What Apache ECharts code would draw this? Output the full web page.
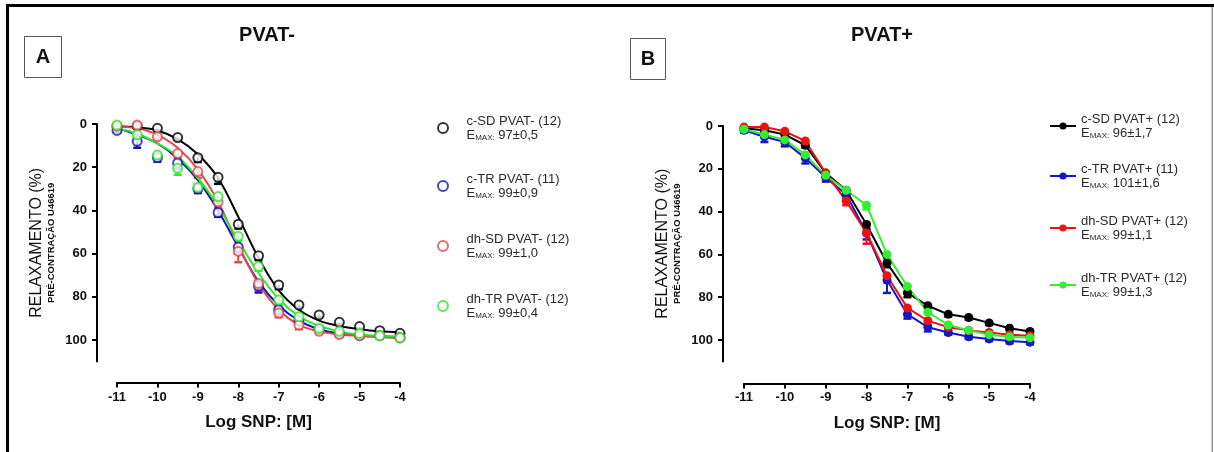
<!DOCTYPE html>
<html><head><meta charset="utf-8">
<script src="https://cdn.jsdelivr.net/npm/echarts@6/dist/echarts.min.js"></script>
<style>html,body{margin:0;padding:0;background:#fff}#c{width:1214px;height:452px}</style>
</head><body><div id="c"></div><script>
// ---------- data ----------
const logSNP = [-11, -10.5, -10, -9.5, -9, -8.5, -8, -7.5, -7, -6.5, -6, -5.5, -5, -4.5, -4];
const xTickLabels = [-11, -10, -9, -8, -7, -6, -5, -4];
const yTickLabels = [0, 20, 40, 60, 80, 100];

const namesA = ['c-SD PVAT- (12)', 'c-TR PVAT- (11)', 'dh-SD PVAT- (12)', 'dh-TR PVAT- (12)'];
const emaxA = ['97±0,5', '99±0,9', '99±1,0', '99±0,4'];
const namesB = ['c-SD PVAT+ (12)', 'c-TR PVAT+ (11)', 'dh-SD PVAT+ (12)', 'dh-TR PVAT+ (12)'];
const emaxB = ['96±1,7', '101±1,6', '99±1,1', '99±1,3'];

// Panel A (PVAT-) mean relaxation (%)
const cSD_A  = [1, 1, 2, 6.3, 15.6, 24.7, 46.4, 61, 74.5, 83.8, 88.4, 91.8, 93.8, 95.7, 96.9];
const cTR_A  = [3, 8, 15.5, 18, 30, 41, 57, 75, 86, 91, 95, 97, 98, 98, 99];
const dhSD_A = [1, 0.5, 5.9, 13.6, 22, 36, 59, 73.8, 87.5, 93, 96, 97.5, 98, 98, 99];
const dhTR_A = [0.5, 5, 14.4, 20.5, 29.3, 33.6, 52, 66, 81.5, 89.2, 94.6, 96, 97, 98, 99];
// Panel A SEM
const cSD_A_err  = [1, 1, 1, 1, 2, 3, 2, 2, 2, 1, 1, 1, 1, 1, 1];
const cTR_A_err  = [1, 3, 2, 3, 2, 2, 3, 3, 2, 1, 1, 1, 1, 1, 1];
const dhSD_A_err = [1, 1, 1, 2, 3, 3, 5, 3, 2, 2, 1, 1, 1, 1, 1];
const dhTR_A_err = [1, 2, 2, 3, 2, 2, 2, 2, 2, 1, 1, 1, 1, 1, 1];
// Panel A fitted curves
const cSD_A_fit  = [1, 1.5, 3, 7, 14, 25, 43, 62, 77, 86, 91, 93.5, 95, 96, 96.5];
const cTR_A_fit  = [2, 5, 9, 16, 26, 40, 57, 73, 84, 91, 95, 97, 98, 98.5, 99];
const dhSD_A_fit = [1, 2, 5, 11, 21, 36, 56, 74, 86, 93, 96, 97.5, 98, 98.5, 99];
const dhTR_A_fit = [2, 4.5, 9, 15, 25, 38, 54, 69, 81, 89, 93.5, 96, 97.5, 98, 98.5];

// Panel B (PVAT+) mean relaxation (%)
const cSD_B  = [1, 2, 4, 9, 22, 30, 46, 64, 78, 84, 88, 89.5, 92, 94.5, 96];
const cTR_B  = [2, 5, 7.5, 15, 24, 32, 50, 72, 88, 94, 96.5, 98.5, 99.5, 100.5, 101];
const dhSD_B = [0.5, 0.5, 2.5, 7, 22, 35, 50, 70, 85, 91, 94, 95.5, 96.5, 97.5, 98];
const dhTR_B = [1.5, 4, 6.5, 13.5, 23, 30, 37, 60, 75, 87, 93, 95.5, 97.5, 98.5, 99];
// Panel B SEM
const cSD_B_err  = [1, 1, 1, 1, 1, 2, 2, 2, 2, 1, 1, 1, 1, 1, 1];
const cTR_B_err  = [1, 2.5, 2, 2.5, 2, 2, 3, 6, 2, 2, 1, 1, 1, 1, 1];
const dhSD_B_err = [1, 1, 1, 1, 2, 2, 5, 3, 3, 2, 1, 1, 1, 1, 1];
const dhTR_B_err = [1, 1, 1, 1, 2, 2, 2, 2, 2, 1, 1, 1, 1, 1, 1];

// ---------- styles ----------
const FF = "'Liberation Sans', Arial, sans-serif";
const colorsA = ['#000000', '#1414b4', '#e2474b', '#2ee62e'];
const colorsB = ['#000000', '#1616c8', '#ee1111', '#33ee33'];

const meansA = [cSD_A, cTR_A, dhSD_A, dhTR_A];
const errsA = [cSD_A_err, cTR_A_err, dhSD_A_err, dhTR_A_err];
const fitsA = [cSD_A_fit, cTR_A_fit, dhSD_A_fit, dhTR_A_fit];
const meansB = [cSD_B, cTR_B, dhSD_B, dhTR_B];
const errsB = [cSD_B_err, cTR_B_err, dhSD_B_err, dhTR_B_err];

const pairs = arr => logSNP.map((x, i) => [x, arr[i]]);
const triples = (m, e) => logSNP.map((x, i) => [x, m[i], e[i]]);

function errSeries(name, idx, data, color) {
  return {
    type: 'custom', name: name, xAxisIndex: idx, yAxisIndex: idx, data: data, z: 3, silent: true,
    renderItem: function (params, api) {
      const x = api.value(0), y = api.value(1), e = api.value(2);
      const p0 = api.coord([x, y]), p1 = api.coord([x, y + e]);
      return { type: 'group', children: [
        { type: 'line', shape: { x1: p0[0], y1: p0[1], x2: p1[0], y2: p1[1] }, style: { stroke: color, lineWidth: 2 } },
        { type: 'line', shape: { x1: p1[0] - 4, y1: p1[1], x2: p1[0] + 4, y2: p1[1] }, style: { stroke: color, lineWidth: 2.5 } }
      ] };
    }
  };
}

const series = [];
for (let i = 0; i < 4; i++) {
  series.push(errSeries('errA' + i, 0, triples(meansA[i], errsA[i]), colorsA[i]));
  series.push({ type: 'line', name: 'fitA' + i, xAxisIndex: 0, yAxisIndex: 0, data: pairs(fitsA[i]),
    smooth: 0.35, showSymbol: false, clip: false, z: 4, silent: true,
    lineStyle: { color: colorsA[i], width: 2 } });
}
for (let i = 0; i < 4; i++) {
  series.push({ type: 'scatter', name: namesA[i], xAxisIndex: 0, yAxisIndex: 0, data: pairs(meansA[i]),
    symbol: 'emptyCircle', symbolSize: 9, clip: false, z: 5,
    itemStyle: { color: colorsA[i], borderColor: colorsA[i], borderWidth: 2.6 } });
}
for (let i = 0; i < 4; i++) {
  series.push(errSeries('errB' + i, 1, triples(meansB[i], errsB[i]), colorsB[i]));
  series.push({ type: 'line', name: namesB[i], xAxisIndex: 1, yAxisIndex: 1, data: pairs(meansB[i]),
    symbol: 'circle', symbolSize: 9, showSymbol: true, clip: false, z: 5,
    itemStyle: { color: colorsB[i] }, lineStyle: { color: colorsB[i], width: 2 } });
}

const emaxMap = {};
namesA.forEach((n, i) => emaxMap[n] = emaxA[i]);
namesB.forEach((n, i) => emaxMap[n] = emaxB[i]);

const legendText = {
  fontFamily: FF, fontSize: 13, color: '#2a2a2a', lineHeight: 14,
  rich: {
    e: { fontFamily: FF, fontSize: 13, color: '#2a2a2a', lineHeight: 14 },
    s: { fontFamily: FF, fontSize: 8, color: '#2a2a2a', lineHeight: 14, verticalAlign: 'bottom' }
  }
};
const fmt = name => name + '\n{e|E}{s|MAX:}{e| ' + emaxMap[name] + '}';
const topsA = [114, 172, 232, 292];
const topsB = [112, 162, 214, 271];
const legends = [];
namesA.forEach((n, i) => legends.push({ data: [n], left: 437, top: topsA[i], padding: 0, itemWidth: 37, itemHeight: 10,
  formatter: fmt, textStyle: legendText, selectedMode: false }));
namesB.forEach((n, i) => legends.push({ data: [n], left: 1049, top: topsB[i], padding: 0, itemWidth: 26, itemHeight: 9,
  formatter: fmt, textStyle: legendText, selectedMode: false }));

function makeX(idx, offset) {
  return {
    gridIndex: idx, type: 'value', min: -11, max: -4, interval: 1, position: 'bottom', offset: offset,
    axisLine: { onZero: false, lineStyle: { color: '#000', width: 2 } },
    axisTick: { show: true, length: 5, lineStyle: { color: '#000', width: 2 } },
    axisLabel: { customValues: xTickLabels, fontFamily: FF, fontSize: 13, fontWeight: 'bold', color: '#111', margin: 8 },
    splitLine: { show: false },
    name: 'Log SNP: [M]', nameLocation: 'middle', nameGap: 31,
    nameTextStyle: { fontFamily: FF, fontSize: 17, fontWeight: 'bold', color: '#111' }
  };
}
function makeY(idx, offset) {
  return {
    gridIndex: idx, type: 'value', min: 0, max: 110, inverse: true, offset: offset,
    axisLine: { show: true, lineStyle: { color: '#000', width: 2 } },
    axisTick: { show: true, length: 5, customValues: yTickLabels, lineStyle: { color: '#000', width: 2 } },
    axisLabel: { customValues: yTickLabels, fontFamily: FF, fontSize: 13, fontWeight: 'bold', color: '#111', margin: 10 },
    splitLine: { show: false },
    name: 'RELAXAMENTO (%)\n{s|PRÉ-CONTRAÇÃO U46619}', nameLocation: 'middle', nameGap: 40, nameRotate: 90,
    nameTextStyle: { fontFamily: FF, fontSize: 16, color: '#111', lineHeight: 16,
      rich: { s: { fontFamily: FF, fontSize: 9.5, fontWeight: 'bold', color: '#111', lineHeight: 12 } } }
  };
}

const chart = echarts.init(document.getElementById('c'), null, { renderer: 'canvas' });
chart.setOption({
  backgroundColor: '#ffffff',
  animation: false,
  grid: [
    { left: 117, top: 124, width: 283, height: 237.6 },
    { left: 744, top: 126, width: 286, height: 235.4 }
  ],
  xAxis: [makeX(0, 21), makeX(1, 22)],
  yAxis: [makeY(0, 20), makeY(1, 21)],
  legend: legends,
  series: series,
  graphic: [
    { type: 'rect', shape: { x: 6, y: 4, width: 1208, height: 3 }, style: { fill: '#000' } },
    { type: 'rect', shape: { x: 6, y: 4, width: 3, height: 448 }, style: { fill: '#000' } },
    { type: 'rect', shape: { x: 1211.5, y: 7, width: 1.5, height: 445 }, style: { fill: '#9a9a9a' } },
    { type: 'rect', shape: { x: 24.5, y: 36.5, width: 37, height: 41 }, style: { fill: '#fff', stroke: '#555', lineWidth: 1 } },
    { type: 'text', x: 43, y: 57.5, style: { text: 'A', font: "bold 20px 'Liberation Sans', Arial, sans-serif", fill: '#111', align: 'center', verticalAlign: 'middle' } },
    { type: 'rect', shape: { x: 630.5, y: 38.5, width: 35, height: 41 }, style: { fill: '#fff', stroke: '#555', lineWidth: 1 } },
    { type: 'text', x: 648, y: 59, style: { text: 'B', font: "bold 20px 'Liberation Sans', Arial, sans-serif", fill: '#111', align: 'center', verticalAlign: 'middle' } },
    { type: 'text', x: 267, y: 35.5, style: { text: 'PVAT-', font: "bold 20px 'Liberation Sans', Arial, sans-serif", fill: '#111', align: 'center', verticalAlign: 'middle' } },
    { type: 'text', x: 882, y: 35.5, style: { text: 'PVAT+', font: "bold 20px 'Liberation Sans', Arial, sans-serif", fill: '#111', align: 'center', verticalAlign: 'middle' } }
  ]
});
</script></body></html>
